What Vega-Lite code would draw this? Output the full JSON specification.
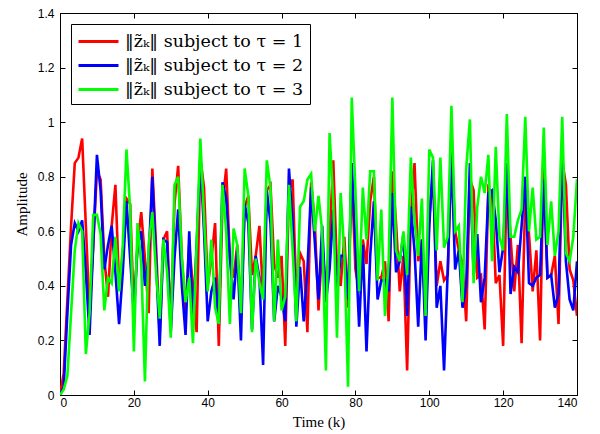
{
  "$schema": "https://vega.github.io/schema/vega-lite/v6.json",
  "autosize": "none",
  "width": 517,
  "height": 382,
  "padding": {"left": 60, "top": 13, "right": 23, "bottom": 39},
  "background": "white",
  "config": {
    "view": {"stroke": "black", "strokeWidth": 1},
    "axis": {
      "grid": false,
      "domainColor": "black",
      "tickColor": "black",
      "labelColor": "black",
      "titleColor": "black",
      "labelFont": "Liberation Sans",
      "labelFontSize": 12,
      "titleFont": "Liberation Serif",
      "titleFontSize": 15,
      "titleFontWeight": "normal"
    },
    "legend": {
      "labelFont": "DejaVu Serif",
      "labelFontSize": 17.5,
      "labelColor": "black",
      "labelLimit": 400,
      "strokeColor": "black",
      "fillColor": "white",
      "strokeWidth": 1
    }
  },
  "data": {"values": [
{"k":0,"t1":0,"t2":0,"t3":0},{"k":1,"t1":0.08,"t2":0.03,"t3":0.02},{"k":2,"t1":0.35,"t2":0.3,"t3":0.07},{"k":3,"t1":0.62,"t2":0.55,"t3":0.3},{"k":4,"t1":0.85,"t2":0.63,"t3":0.53},{"k":5,"t1":0.87,"t2":0.6,"t3":0.63},{"k":6,"t1":0.94,"t2":0.64,"t3":0.6},{"k":7,"t1":0.62,"t2":0.45,"t3":0.15},{"k":8,"t1":0.3,"t2":0.22,"t3":0.3},{"k":9,"t1":0.55,"t2":0.55,"t3":0.66},
{"k":10,"t1":0.82,"t2":0.88,"t3":0.66},{"k":11,"t1":0.79,"t2":0.75,"t3":0.59},{"k":12,"t1":0.5,"t2":0.46,"t3":0.31},{"k":13,"t1":0.36,"t2":0.55,"t3":0.43},{"k":14,"t1":0.62,"t2":0.62,"t3":0.41},{"k":15,"t1":0.77,"t2":0.45,"t3":0.58},{"k":16,"t1":0.4,"t2":0.26,"t3":0.38},{"k":17,"t1":0.5,"t2":0.45,"t3":0.55},{"k":18,"t1":0.72,"t2":0.71,"t3":0.9},{"k":19,"t1":0.7,"t2":0.5,"t3":0.68},
{"k":20,"t1":0.3,"t2":0.3,"t3":0.16},{"k":21,"t1":0.55,"t2":0.55,"t3":0.63},{"k":22,"t1":0.67,"t2":0.6,"t3":0.48},{"k":23,"t1":0.5,"t2":0.4,"t3":0.05},{"k":24,"t1":0.3,"t2":0.5,"t3":0.55},{"k":25,"t1":0.83,"t2":0.8,"t3":0.67},{"k":26,"t1":0.55,"t2":0.5,"t3":0.45},{"k":27,"t1":0.22,"t2":0.18,"t3":0.28},{"k":28,"t1":0.57,"t2":0.57,"t3":0.57},{"k":29,"t1":0.6,"t2":0.56,"t3":0.45},
{"k":30,"t1":0.25,"t2":0.23,"t3":0.21},{"k":31,"t1":0.7,"t2":0.5,"t3":0.77},{"k":32,"t1":0.84,"t2":0.68,"t3":0.8},{"k":33,"t1":0.5,"t2":0.4,"t3":0.5},{"k":34,"t1":0.31,"t2":0.22,"t3":0.34},{"k":35,"t1":0.55,"t2":0.6,"t3":0.43},{"k":36,"t1":0.4,"t2":0.26,"t3":0.19},{"k":37,"t1":0.23,"t2":0.55,"t3":0.55},{"k":38,"t1":0.87,"t2":0.87,"t3":0.94},{"k":39,"t1":0.76,"t2":0.6,"t3":0.65},
{"k":40,"t1":0.4,"t2":0.27,"t3":0.38},{"k":41,"t1":0.5,"t2":0.38,"t3":0.57},{"k":42,"t1":0.63,"t2":0.43,"t3":0.32},{"k":43,"t1":0.18,"t2":0.26,"t3":0.26},{"k":44,"t1":0.7,"t2":0.78,"t3":0.77},{"k":45,"t1":0.83,"t2":0.72,"t3":0.6},{"k":46,"t1":0.5,"t2":0.5,"t3":0.26},{"k":47,"t1":0.43,"t2":0.35,"t3":0.61},{"k":48,"t1":0.55,"t2":0.53,"t3":0.55},{"k":49,"t1":0.3,"t2":0.2,"t3":0.3},
{"k":50,"t1":0.69,"t2":0.7,"t3":0.83},{"k":51,"t1":0.73,"t2":0.63,"t3":0.73},{"k":52,"t1":0.44,"t2":0.24,"t3":0.23},{"k":53,"t1":0.51,"t2":0.51,"t3":0.5},{"k":54,"t1":0.62,"t2":0.43,"t3":0.41},{"k":55,"t1":0.36,"t2":0.11,"t3":0.35},{"k":56,"t1":0.75,"t2":0.75,"t3":0.86},{"k":57,"t1":0.77,"t2":0.63,"t3":0.76},{"k":58,"t1":0.48,"t2":0.27,"t3":0.27},{"k":59,"t1":0.43,"t2":0.4,"t3":0.57},
{"k":60,"t1":0.51,"t2":0.36,"t3":0.31},{"k":61,"t1":0.18,"t2":0.27,"t3":0.36},{"k":62,"t1":0.75,"t2":0.83,"t3":0.77},{"k":63,"t1":0.79,"t2":0.63,"t3":0.53},{"k":64,"t1":0.36,"t2":0.25,"t3":0.27},{"k":65,"t1":0.52,"t2":0.47,"t3":0.69},{"k":66,"t1":0.49,"t2":0.27,"t3":0.71},{"k":67,"t1":0.23,"t2":0.46,"t3":0.79},{"k":68,"t1":0.78,"t2":0.76,"t3":0.81},{"k":69,"t1":0.63,"t2":0.56,"t3":0.6},
{"k":70,"t1":0.31,"t2":0.35,"t3":0.73},{"k":71,"t1":0.55,"t2":0.62,"t3":0.6},{"k":72,"t1":0.38,"t2":0.34,"t3":0.09},{"k":73,"t1":0.58,"t2":0.46,"t3":0.96},{"k":74,"t1":0.86,"t2":0.68,"t3":0.71},{"k":75,"t1":0.46,"t2":0.37,"t3":0.21},{"k":76,"t1":0.4,"t2":0.51,"t3":0.74},{"k":77,"t1":0.58,"t2":0.51,"t3":0.52},{"k":78,"t1":0.32,"t2":0.35,"t3":0.03},{"k":79,"t1":0.81,"t2":0.85,"t3":1.09},
{"k":80,"t1":0.46,"t2":0.55,"t3":0.75},{"k":81,"t1":0.38,"t2":0.25,"t3":0.38},{"k":82,"t1":0.57,"t2":0.55,"t3":0.76},{"k":83,"t1":0.48,"t2":0.16,"t3":0.57},{"k":84,"t1":0.71,"t2":0.51,"t3":0.82},{"k":85,"t1":0.8,"t2":0.71,"t3":0.82},{"k":86,"t1":0.43,"t2":0.35,"t3":0.42},{"k":87,"t1":0.43,"t2":0.42,"t3":0.68},{"k":88,"t1":0.49,"t2":0.42,"t3":0.29},{"k":89,"t1":0.27,"t2":0.38,"t3":0.49},
{"k":90,"t1":0.82,"t2":0.74,"t3":1.09},{"k":91,"t1":0.63,"t2":0.45,"t3":0.53},{"k":92,"t1":0.38,"t2":0.49,"t3":0.49},{"k":93,"t1":0.51,"t2":0.59,"t3":0.6},{"k":94,"t1":0.09,"t2":0.29,"t3":0.44},{"k":95,"t1":0.65,"t2":0.69,"t3":0.87},{"k":96,"t1":0.85,"t2":0.53,"t3":0.64},{"k":97,"t1":0.49,"t2":0.25,"t3":0.51},{"k":98,"t1":0.57,"t2":0.57,"t3":0.72},{"k":99,"t1":0.29,"t2":0.2,"t3":0.29},
{"k":100,"t1":0.65,"t2":0.62,"t3":0.9},{"k":101,"t1":0.81,"t2":0.86,"t3":0.87},{"k":102,"t1":0.4,"t2":0.32,"t3":0.53},{"k":103,"t1":0.49,"t2":0.4,"t3":0.87},{"k":104,"t1":0.42,"t2":0.09,"t3":0.54},{"k":105,"t1":0.44,"t2":0.46,"t3":0.58},{"k":106,"t1":0.92,"t2":0.88,"t3":1.06},{"k":107,"t1":0.6,"t2":0.46,"t3":0.6},{"k":108,"t1":0.53,"t2":0.53,"t3":0.62},{"k":109,"t1":0.48,"t2":0.32,"t3":0.34},
{"k":110,"t1":0.27,"t2":0.4,"t3":0.83},{"k":111,"t1":0.79,"t2":0.85,"t3":1.01},{"k":112,"t1":0.75,"t2":0.44,"t3":0.41},{"k":113,"t1":0.43,"t2":0.59,"t3":0.69},{"k":114,"t1":0.44,"t2":0.34,"t3":0.8},{"k":115,"t1":0.24,"t2":0.43,"t3":0.74},{"k":116,"t1":0.76,"t2":0.74,"t3":0.88},{"k":117,"t1":0.74,"t2":0.75,"t3":0.49},{"k":118,"t1":0.41,"t2":0.64,"t3":0.91},{"k":119,"t1":0.44,"t2":0.45,"t3":0.58},
{"k":120,"t1":0.18,"t2":0.54,"t3":0.53},{"k":121,"t1":0.81,"t2":0.85,"t3":1.03},{"k":122,"t1":0.58,"t2":0.37,"t3":0.58},{"k":123,"t1":0.38,"t2":0.47,"t3":0.58},{"k":124,"t1":0.55,"t2":0.45,"t3":0.64},{"k":125,"t1":0.19,"t2":0.62,"t3":0.68},{"k":126,"t1":0.73,"t2":0.8,"t3":1.02},{"k":127,"t1":0.59,"t2":0.41,"t3":0.6},{"k":128,"t1":0.38,"t2":0.4,"t3":0.76},{"k":129,"t1":0.53,"t2":0.43,"t3":0.57},
{"k":130,"t1":0.2,"t2":0.44,"t3":0.58},{"k":131,"t1":0.87,"t2":0.79,"t3":0.98},{"k":132,"t1":0.43,"t2":0.43,"t3":0.55},{"k":133,"t1":0.44,"t2":0.44,"t3":0.71},{"k":134,"t1":0.51,"t2":0.32,"t3":0.51},{"k":135,"t1":0.26,"t2":0.37,"t3":0.6},{"k":136,"t1":0.86,"t2":0.9,"t3":1.02},{"k":137,"t1":0.77,"t2":0.49,"t3":0.52},{"k":138,"t1":0.46,"t2":0.35,"t3":0.49},{"k":139,"t1":0.42,"t2":0.31,"t3":0.58},
{"k":140,"t1":0.29,"t2":0.49,"t3":0.79}
  ]},
  "transform": [{"fold": ["t1", "t2", "t3"], "as": ["s", "v"]}],
  "layer": [
    {
      "mark": {"type": "line", "strokeWidth": 2.6, "clip": true},
      "encoding": {
        "x": {"field": "k", "type": "quantitative", "scale": {"domain": [0, 140], "nice": false},
          "axis": {"orient": "bottom", "values": [0,20,40,60,80,100,120,140], "title": "Time (k)", "tickSize": -5, "labelPadding": 7, "titlePadding": 6}},
        "y": {"field": "v", "type": "quantitative", "scale": {"domain": [0, 1.4], "nice": false, "zero": false},
          "axis": {"orient": "left", "values": [0,0.2,0.4,0.6,0.8,1,1.2,1.4], "format": "~g", "title": "Amplitude", "tickSize": -5, "labelPadding": 11, "titlePadding": 8}},
        "color": {"field": "s", "type": "nominal",
          "scale": {"domain": ["t1", "t2", "t3"], "range": ["#ff0000", "#0000ff", "#00ff00"]},
          "legend": {
            "orient": "top-left", "offset": 11, "title": null,
            "labelExpr": "'‖z̃ₖ‖ subject to τ = ' + substring(datum.label, 1)",
            "labelFont": "DejaVu Serif", "labelFontSize": 17.5, "labelColor": "black", "labelLimit": 400,
            "symbolType": "M-1,0H3", "symbolSize": 400, "symbolStrokeWidth": 3,
            "strokeColor": "black", "fillColor": "white", "padding": 6,
            "rowPadding": 4, "labelOffset": 25, "cornerRadius": 0
          }}
      }
    },
    {
      "mark": {"type": "line", "strokeOpacity": 0},
      "encoding": {
        "x": {"field": "k", "type": "quantitative",
          "axis": {"orient": "top", "values": [0,20,40,60,80,100,120,140], "labels": false, "title": null, "tickSize": -5}},
        "y": {"field": "v", "type": "quantitative",
          "axis": {"orient": "right", "values": [0,0.2,0.4,0.6,0.8,1,1.2,1.4], "labels": false, "title": null, "tickSize": -5}},
        "detail": {"field": "s"}
      }
    }
  ],
  "resolve": {"axis": {"x": "independent", "y": "independent"}}
}
